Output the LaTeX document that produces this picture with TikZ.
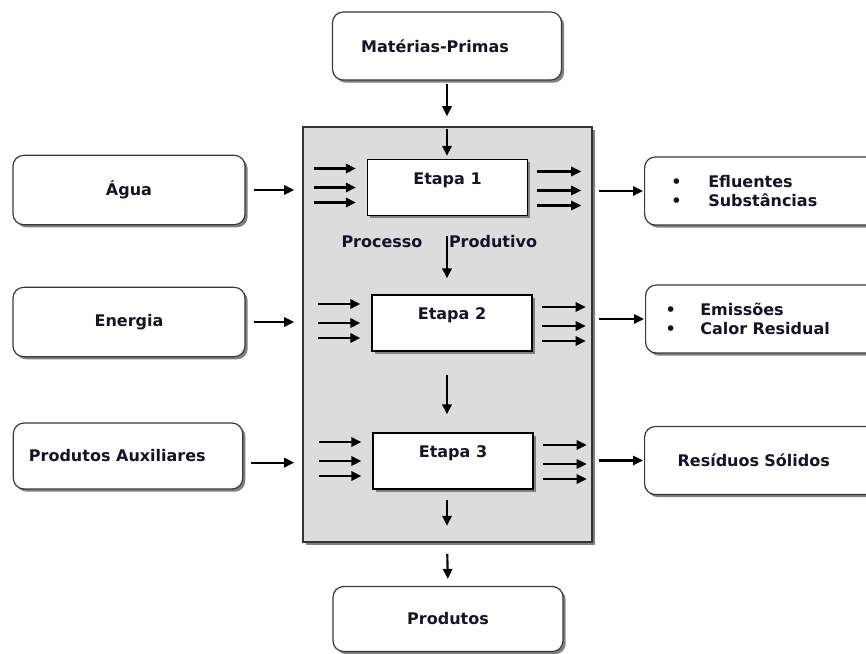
\documentclass[tikz,border=0pt]{standalone}
\usepackage{fontspec}
\setmainfont{DejaVu Sans}
\usetikzlibrary{arrows.meta,positioning,calc,shadows}
\definecolor{procgray}{HTML}{DCDCDC}
\definecolor{boxline}{HTML}{3A3A3A}
\definecolor{txtink}{HTML}{141428}
\tikzset{
  txt/.style={font=\fontsize{12}{14}\selectfont\bfseries, text=txtink},
  shd/.style={drop shadow={shadow xshift=2pt, shadow yshift=-2pt, fill=black!50, opacity=1}},
  rbox/.style={txt, shd, draw=boxline, fill=white, line width=0.9pt, rounded corners=8pt, align=center},
  sidebox/.style={rbox, minimum width=174pt, minimum height=52pt},
  outbox/.style={rbox, anchor=west, minimum height=51pt, align=left},
  procbox/.style={shd, draw=black!80, fill=procgray, line width=1.2pt, minimum width=216.75pt, minimum height=311.25pt},
  etapa/.style={txt, shd, draw=black, fill=white, line width=1pt, minimum width=120pt, minimum height=42pt, align=center},
  arr/.style={-{Triangle[length=7.5pt,width=7pt]}, line width=1.6pt, color=black},
}

\begin{document}
\begin{tikzpicture}[x=0.75pt, y=-0.75pt]
  \useasboundingbox (0,0) rectangle (866,653);
  \clip (0,0) rectangle (866,653);
  % processo produtivo
  \node[procbox] (proc) at (447.5,334.5) {};
  \node[etapa] (e1) at (447.5,187.5) {Etapa 1\\\mbox{}};
  \node[etapa] (e2) at (452,323) {Etapa 2\\\mbox{}};
  \node[etapa] (e3) at (453,461) {Etapa 3\\\mbox{}};
  \node[txt] (lbproc) at (382,242) {Processo};
  \node[txt] (lbprod) at (493,242) {Produtivo};
  % entradas e saidas
  \node[rbox, minimum width=171.75pt, minimum height=51pt] (mp) at (447,46) {Matérias-Primas\hspace{18pt}};
  \node[sidebox] (agua) at (129,190) {Água};
  \node[sidebox] (energia) at (129,322) {Energia};
  \node[rbox, minimum width=172pt, minimum height=49.5pt] (aux) at (128,456) {Produtos Auxiliares\hspace{16pt}};
  \node[rbox, minimum width=172.5pt, minimum height=48.75pt] (prod) at (448,619) {Produtos};
  \node[outbox, inner xsep=20pt, text width=150pt] (efl) at (644,191)
    {\makebox[27.75pt][l]{\textbullet}Efluentes\\\makebox[27.75pt][l]{\textbullet}Substâncias};
  \node[outbox, inner xsep=15pt, text width=160pt] (emi) at (645,319)
    {\makebox[26pt][l]{\textbullet}Emissões\\\makebox[26pt][l]{\textbullet}Calor Residual};
  \node[outbox, inner xsep=24.75pt, text width=150pt] (res) at (644,460.5) {Resíduos Sólidos};
  % fluxo vertical
  \draw[arr, shorten <=2.25pt, shorten >=7.5pt] (mp.south) -- (mp.south |- proc.north);
  \draw[arr, shorten <=2.25pt, shorten >=2.25pt] (mp.south |- proc.north) -- (mp.south |- e1.north);
  \draw[arr, shorten <=15pt, shorten >=12pt] (mp.south |- e1.south) -- (mp.south |- e2.north);
  \draw[arr, shorten <=17.25pt, shorten >=13.5pt] (mp.south |- e2.south) -- (mp.south |- e3.north);
  \draw[arr, shorten <=7.5pt, shorten >=12.75pt] (mp.south |- e3.south) -- (mp.south |- proc.south);
  \draw[arr, shorten <=8.25pt, shorten >=5.25pt] (mp.south |- proc.south) -- (prod.north);
  % entradas
  \draw[arr, shorten <=6pt, shorten >=6pt] (agua.east) -- (agua.east -| proc.west);
  \draw[arr, shorten <=6pt, shorten >=6pt] (energia.east) -- (energia.east -| proc.west);
  \draw[arr, shorten <=6pt, shorten >=6pt, transform canvas={yshift=-5pt}] (aux.east) -- (aux.east -| proc.west);
  % saidas
  \draw[arr, shorten <=4.5pt, shorten >=0.75pt] (proc.east |- efl.west) -- (efl.west);
  \draw[arr, shorten <=4.5pt, shorten >=0.75pt] (proc.east |- emi.west) -- (emi.west);
  \draw[arr, shorten <=4.5pt, shorten >=0.75pt] (proc.east |- res.west) -- (res.west);
  % setas das etapas
  \foreach \s in {e1,e2,e3}{
    \foreach \dy in {-19,0,15}
      \draw[arr] ($(\s.west)+(-53,\dy)$) -- ++(42,0);
    \foreach \dy in {-16,3,18}
      \draw[arr] ($(\s.east)+(9,\dy)$) -- ++(44,0);
  }
\end{tikzpicture}
\end{document}
